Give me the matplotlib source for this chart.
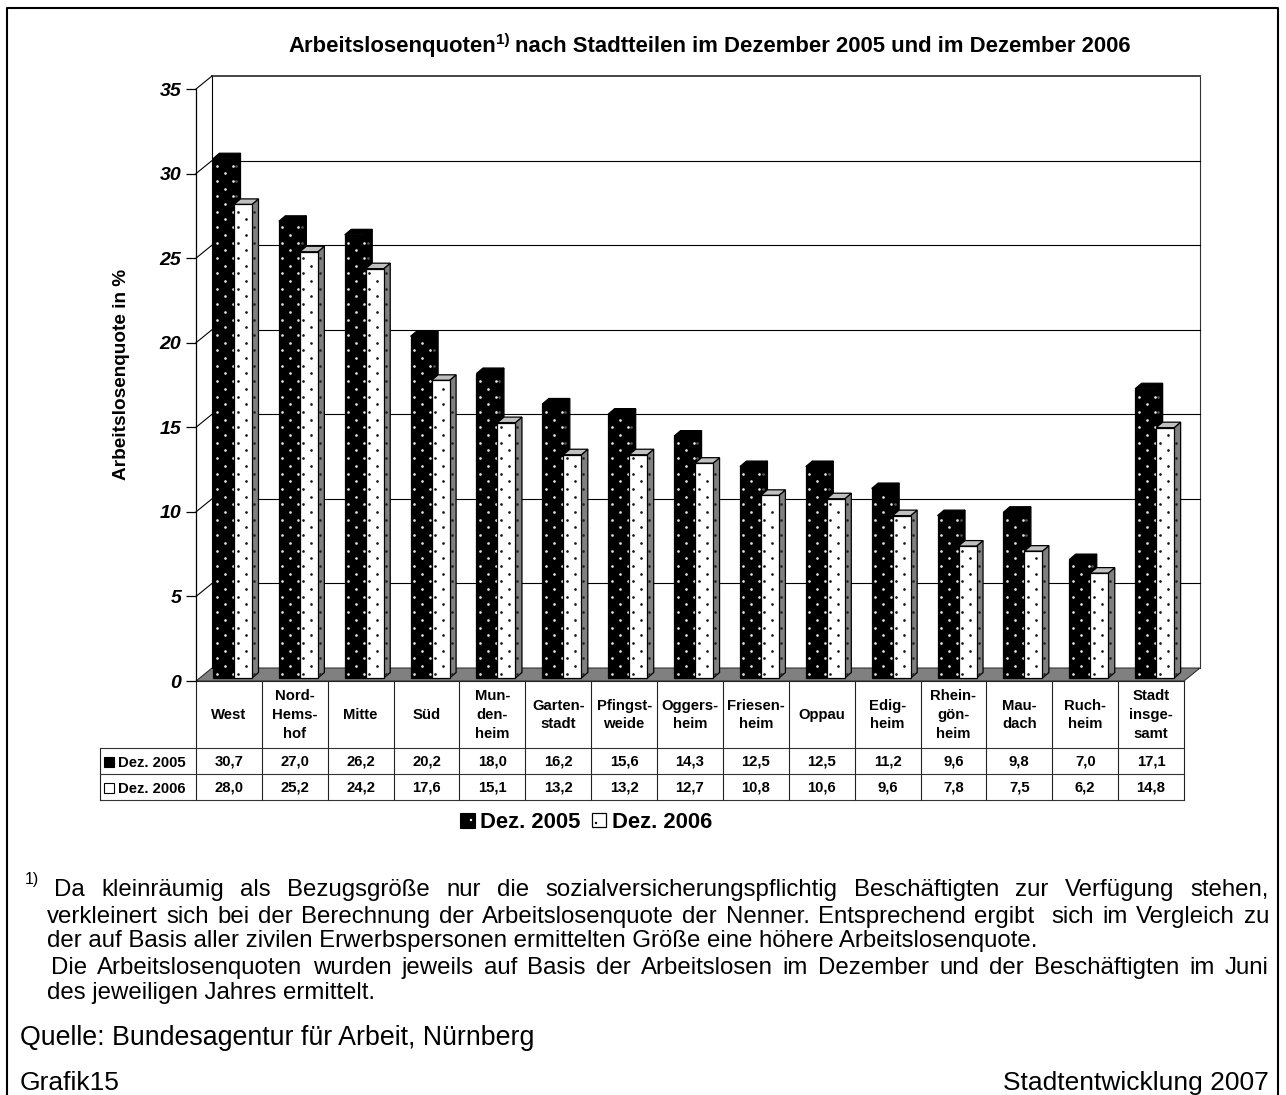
import numpy as np
import matplotlib
matplotlib.use('Agg')
import matplotlib.pyplot as plt
from matplotlib.patches import Polygon, Rectangle

plt.rcParams['font.family'] = ['Liberation Sans', 'DejaVu Sans']

categories = ['West', 'Nord-\nHems-\nhof', 'Mitte', 'Süd', 'Mun-\nden-\nheim', 'Garten-\nstadt',
              'Pfingst-\nweide', 'Oggers-\nheim', 'Friesen-\nheim', 'Oppau', 'Edig-\nheim',
              'Rhein-\ngön-\nheim', 'Mau-\ndach', 'Ruch-\nheim', 'Stadt\ninsge-\nsamt']
dez_2005 = [30.7, 27.0, 26.2, 20.2, 18.0, 16.2, 15.6, 14.3, 12.5, 12.5, 11.2, 9.6, 9.8, 7.0, 17.1]
dez_2006 = [28.0, 25.2, 24.2, 17.6, 15.1, 13.2, 13.2, 12.7, 10.8, 10.6, 9.6, 7.8, 7.5, 6.2, 14.8]
y_ticks = [0, 5, 10, 15, 20, 25, 30, 35]

W, H = 1286, 1095
X0, X1, Y0, Y35 = 196, 1184, 681, 89
PX_CAT = (X1 - X0) / 15
PX_VAL = (Y0 - Y35) / 35
WALL_X, WALL_Y = 16 / PX_CAT, 13 / PX_VAL  # depth of the fake 3d box
BAR_X, BAR_Y = 6.5 / PX_CAT, 5.5 / PX_VAL  # depth of one bar
BASE = 3 / PX_VAL

fig = plt.figure(figsize=(W / 100, H / 100), dpi=100)

# overlay in pixel coordinates for frame, table and notes
pg = fig.add_axes([0, 0, 1, 1], zorder=0)
pg.set_xlim(0, W)
pg.set_ylim(H, 0)
pg.axis('off')

ax = fig.add_axes([X0 / W, 1 - Y0 / H, (X1 - X0) / W, (Y0 - Y35) / H], zorder=1)
ax.patch.set_alpha(0)
ax.set_xlim(0, 15)
ax.set_ylim(0, 35)
for s in ['top', 'right', 'bottom']:
    ax.spines[s].set_visible(False)
ax.spines['left'].set_linewidth(0.9)
ax.set_xticks([])
ax.set_yticks(y_ticks)
ax.set_yticklabels([str(v) for v in y_ticks], fontsize=14, fontweight='bold', fontstyle='italic')
ax.tick_params(axis='y', length=7.5, width=0.9, pad=3)

# back wall, floor and gridlines
ax.add_patch(Polygon([(0, 0), (15, 0), (15 + WALL_X, WALL_Y), (WALL_X, WALL_Y)], closed=True,
                     facecolor='#808080', edgecolor='#222222', lw=0.7, clip_on=False, zorder=1))
ax.plot([WALL_X, WALL_X], [WALL_Y, 35 + WALL_Y], color='black', lw=0.8, clip_on=False, zorder=1)
ax.plot([15 + WALL_X, 15 + WALL_X], [WALL_Y, 35 + WALL_Y], color='#333333', lw=0.8, clip_on=False, zorder=1)
ax.plot([WALL_X, 15 + WALL_X], [35 + WALL_Y] * 2, color='#444444', lw=1.4, clip_on=False, zorder=1)
for v in y_ticks[1:-1]:
    ax.plot([WALL_X, 15 + WALL_X], [v + WALL_Y] * 2, color='black', lw=0.8, clip_on=False, zorder=1)
for v in y_ticks[1:]:
    ax.plot([0, WALL_X], [v, v + WALL_Y], color='black', lw=0.8, clip_on=False, zorder=1)


def dots(x0, x1, top, color, z):
    xs, ys = [], []
    pitch_x, pitch_y = 8 / PX_CAT, 7.7 / PX_VAL
    for r, y in enumerate(np.arange(BASE + 0.25, top - 0.2, pitch_y)):
        for c, x in enumerate(np.arange(x0 + 3.5 / PX_CAT, x1 - 0.02, pitch_x)):
            if (r + c) % 2 == 0:
                xs.append(x)
                ys.append(y)
    ax.scatter(xs, ys, s=3.6, color=color, linewidths=0, clip_on=False, zorder=z)


def bar(x0, width, value, front, top_col, side_col, dot_col, edge, z):
    x1 = x0 + width
    top = value + BASE
    ax.add_patch(Polygon([(x1, BASE), (x1 + BAR_X, BASE + BAR_Y), (x1 + BAR_X, top + BAR_Y), (x1, top)],
                         closed=True, facecolor=side_col, edgecolor=edge, lw=0.9, clip_on=False, zorder=z))
    ax.add_patch(Polygon([(x0, top), (x1, top), (x1 + BAR_X, top + BAR_Y), (x0 + BAR_X, top + BAR_Y)],
                         closed=True, facecolor=top_col, edgecolor=edge, lw=0.9, clip_on=False, zorder=z))
    ax.add_patch(Rectangle((x0, BASE), width, value, facecolor=front, edgecolor=edge, lw=0.9,
                           clip_on=False, zorder=z))
    dots(x0, x1, top, dot_col, z + 0.1)
    dots(x1 + 2 / PX_CAT - 3.5 / PX_CAT, x1 + BAR_X - 1 / PX_CAT, top, '#222222' if side_col != 'black' else '#555555', z + 0.1)


for i, (a, b) in enumerate(zip(dez_2005, dez_2006)):
    bar(i + 17 / PX_CAT, 21 / PX_CAT, a, 'black', 'black', 'black', '#e8e8e8', 'black', 3 + i * 0.01)
    bar(i + 38 / PX_CAT, 18 / PX_CAT, b, 'white', '#c0c0c0', '#808080', '#111111', 'black', 4 + i * 0.01)

# page frame, open at the bottom of the crop
pg.plot([7, 7, 1278, 1278], [H, 8, 8, H], color='black', lw=1.5)

# table under the chart
col_x = [X0 + PX_CAT * i for i in range(16)]
tbl_y = [681, 748, 774, 800]
for x in col_x:
    pg.plot([x, x], [681, 800], color='#222222', lw=0.8)
pg.plot([100, 100], [748, 800], color='#222222', lw=0.8)
pg.plot([X0, X1], [681, 681], color='#222222', lw=0.8)
for y in tbl_y[1:]:
    pg.plot([100, X1], [y, y], color='#333333', lw=0.8)
pg.add_patch(Rectangle((103.5, 757), 10, 10, facecolor='black', edgecolor='black', lw=0.8))
pg.add_patch(Rectangle((103.5, 783), 10, 10, facecolor='white', edgecolor='black', lw=0.8))
pg.text(118, 763, 'Dez. 2005', fontsize=10.7, fontweight='bold', ha='left', va='center')
pg.text(118, 789, 'Dez. 2006', fontsize=10.7, fontweight='bold', ha='left', va='center')
for i, name in enumerate(categories):
    cx = col_x[i] + PX_CAT / 2
    pg.text(cx, 715, name, fontsize=10.7, fontweight='bold', ha='center', va='center', linespacing=1.45)
    pg.text(cx, 762, f'{dez_2005[i]:.1f}'.replace('.', ','), fontsize=10.7, fontweight='bold', ha='center', va='center')
    pg.text(cx, 787, f'{dez_2006[i]:.1f}'.replace('.', ','), fontsize=10.7, fontweight='bold', ha='center', va='center')

# legend
pg.add_patch(Rectangle((459.5, 812.5), 15, 15, facecolor='black', edgecolor='black', lw=0.8))
pg.add_patch(Rectangle((591.5, 813), 14, 14, facecolor='white', edgecolor='black', lw=0.9))
pg.scatter([471, 596], [820, 823], s=3, color=['white', 'black'], linewidths=0)
pg.text(480, 828, 'Dez. 2005', fontsize=15.8, fontweight='bold', ha='left', va='baseline')
pg.text(612, 828, 'Dez. 2006', fontsize=15.8, fontweight='bold', ha='left', va='baseline')

# axis title
pg.text(121, 374, 'Arbeitslosenquote in %', fontsize=13.7, fontweight='bold', rotation=90,
        ha='center', va='center')

renderer = fig.canvas.get_renderer()


def text_w(t):
    return t.get_window_extent(renderer).width


# title with raised footnote mark
t1 = pg.text(288, 52, 'Arbeitslosenquoten', fontsize=15.9, fontweight='bold', ha='left', va='baseline')
x = 288 + text_w(t1)
t2 = pg.text(x, 44, '1)', fontsize=11, fontweight='bold', ha='left', va='baseline')
x += text_w(t2) + 6
pg.text(x, 52, 'nach Stadtteilen im Dezember 2005 und im Dezember 2006', fontsize=15.9,
        fontweight='bold', ha='left', va='baseline')

note_lines = [
    (54, 896, True, 'Da kleinräumig als Bezugsgröße nur die sozialversicherungspflichtig Beschäftigten zur Verfügung stehen,'),
    (47, 923, True, 'verkleinert sich bei der Berechnung der Arbeitslosenquote der Nenner. Entsprechend ergibt  sich im Vergleich zu'),
    (47, 947, False, 'der auf Basis aller zivilen Erwerbspersonen ermittelten Größe eine höhere Arbeitslosenquote.'),
    (51, 974, True, 'Die Arbeitslosenquoten wurden jeweils auf Basis der Arbeitslosen im Dezember und der Beschäftigten im Juni'),
    (47, 999, False, 'des jeweiligen Jahres ermittelt.'),
]
NOTE_SIZE = 17.3
NOTE_END = 1269
pg.text(25, 884, '1)', fontsize=11.5, ha='left', va='baseline')
for x0, y, justify, line in note_lines:
    if not justify:
        pg.text(x0, y, line, fontsize=NOTE_SIZE, ha='left', va='baseline')
        continue
    # spread the words over the full line width
    words = line.split(' ')
    arts = [pg.text(x0, y, w, fontsize=NOTE_SIZE, ha='left', va='baseline') for w in words]
    widths = [text_w(a) if w else 0 for a, w in zip(arts, words)]
    gap = (NOTE_END - x0 - sum(widths)) / (len(words) - 1)
    x = x0
    for a, w_ in zip(arts, widths):
        a.set_x(x)
        x += w_ + gap

pg.text(20, 1045, 'Quelle: Bundesagentur für Arbeit, Nürnberg', fontsize=19.3, ha='left', va='baseline')
pg.text(20, 1090, 'Grafik15', fontsize=19, ha='left', va='baseline')
pg.text(1269, 1090, 'Stadtentwicklung 2007', fontsize=19, ha='right', va='baseline')

fig.savefig('out.png', dpi=100)
